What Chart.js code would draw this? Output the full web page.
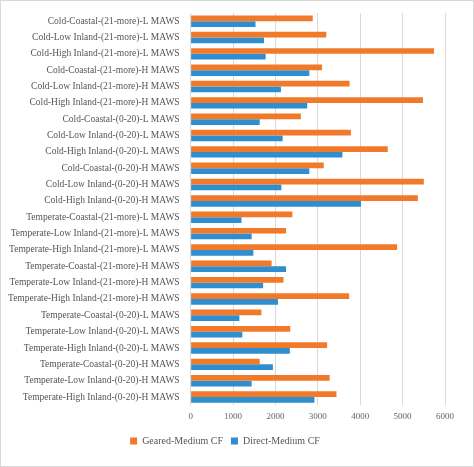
<!DOCTYPE html>
<html><head><meta charset="utf-8">
<script src="https://cdn.jsdelivr.net/npm/chart.js@4"></script>
<style>html,body{margin:0;padding:0;background:#fff}#w{width:472px;height:465px;border:1px solid #d9d9d9}</style>
</head><body><div id="w"><canvas id="c" width="472" height="465"></canvas></div>
<script>
const categories=["Cold-Coastal-(21-more)-L MAWS","Cold-Low Inland-(21-more)-L MAWS","Cold-High Inland-(21-more)-L MAWS","Cold-Coastal-(21-more)-H MAWS","Cold-Low Inland-(21-more)-H MAWS","Cold-High Inland-(21-more)-H MAWS","Cold-Coastal-(0-20)-L MAWS","Cold-Low Inland-(0-20)-L MAWS","Cold-High Inland-(0-20)-L MAWS","Cold-Coastal-(0-20)-H MAWS","Cold-Low Inland-(0-20)-H MAWS","Cold-High Inland-(0-20)-H MAWS","Temperate-Coastal-(21-more)-L MAWS","Temperate-Low Inland-(21-more)-L MAWS","Temperate-High Inland-(21-more)-L MAWS","Temperate-Coastal-(21-more)-H MAWS","Temperate-Low Inland-(21-more)-H MAWS","Temperate-High Inland-(21-more)-H MAWS","Temperate-Coastal-(0-20)-L MAWS","Temperate-Low Inland-(0-20)-L MAWS","Temperate-High Inland-(0-20)-L MAWS","Temperate-Coastal-(0-20)-H MAWS","Temperate-Low Inland-(0-20)-H MAWS","Temperate-High Inland-(0-20)-H MAWS"];
const geared=[2880,3200,5740,3100,3750,5480,2600,3780,4650,3140,5500,5360,2400,2250,4870,1910,2190,3740,1670,2350,3220,1630,3280,3440];
const direct=[1530,1730,1770,2800,2130,2750,1630,2170,3580,2800,2140,4020,1200,1440,1480,2250,1710,2060,1150,1220,2340,1940,1440,2920];
const ticks=[0,1000,2000,3000,4000,5000,6000];
new Chart(document.getElementById('c'),{type:'bar',
data:{labels:categories,datasets:[
{label:'Geared-Medium CF',data:geared,backgroundColor:'#F07A2A',categoryPercentage:0.7,barPercentage:1},
{label:'Direct-Medium CF',data:direct,backgroundColor:'#2F8ECF',categoryPercentage:0.7,barPercentage:1}]},
options:{indexAxis:'y',responsive:false,animation:false,
layout:{padding:{top:12,right:28,left:4,bottom:10}},
plugins:{legend:{position:'bottom',labels:{boxWidth:7,boxHeight:7,padding:8,color:'#555',font:{family:'Liberation Serif',size:10}}},tooltip:{enabled:false}},
scales:{x:{min:0,max:6000,afterBuildTicks:a=>{a.ticks=ticks.map(v=>({value:v}));},grid:{color:'#d9d9d9',drawTicks:false},border:{display:false},ticks:{callback:v=>String(v),padding:6,color:'#666',font:{family:'Liberation Serif',size:9}}},
y:{grid:{display:false},border:{color:'#d9d9d9'},ticks:{autoSkip:false,color:'#555',font:{family:'Liberation Serif',size:9.5}}}}}});
</script></body></html>
